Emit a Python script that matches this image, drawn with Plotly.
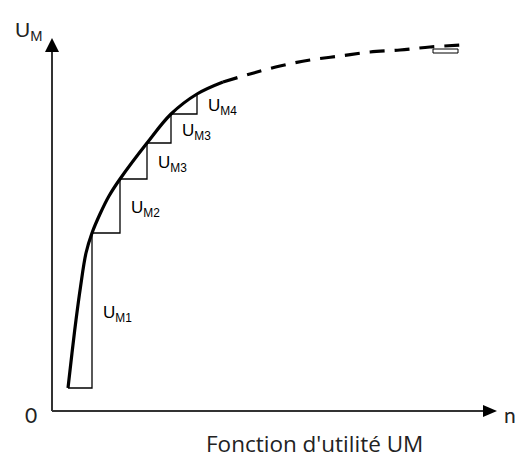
import plotly.graph_objects as go

# Data (arbitrary units: n along horizontal, U_M along vertical)
solid_n = [16, 20, 24, 28.5, 34, 40, 48, 57, 68, 95, 119, 145, 171]
solid_U = [23, 58, 91, 124, 158, 178, 197, 215, 232, 268, 297, 317, 329]

dashed_n = [171, 198, 228, 258, 288, 318, 348, 378, 411]
dashed_U = [329, 337, 345, 351, 355, 359, 361, 364, 366]

step_n = [16, 40, 68, 95, 119, 145]
step_U = [23, 178, 232, 268, 297, 317]

step_labels = ["U<sub>M1</sub>", "U<sub>M2</sub>", "U<sub>M3</sub>", "U<sub>M3</sub>", "U<sub>M4</sub>"]

endbox_n = [381, 406]
endbox_U = [358, 362]

axis_n_max = 445
axis_U_max = 373

fig = go.Figure()

# staircase
fig.add_trace(go.Scatter(x=step_n, y=step_U, mode="lines", line_shape="hv",
                         line=dict(color="black", width=1.3), hoverinfo="skip"))
# solid curve
fig.add_trace(go.Scatter(x=solid_n, y=solid_U, mode="lines", line_shape="spline",
                         line=dict(color="black", width=3.2), hoverinfo="skip"))
# dashed curve
fig.add_trace(go.Scatter(x=dashed_n, y=dashed_U, mode="lines", line_shape="spline",
                         line=dict(color="black", width=3.2, dash="15px,10px"), hoverinfo="skip"))
# small box at end
fig.add_trace(go.Scatter(x=[endbox_n[0], endbox_n[1], endbox_n[1], endbox_n[0], endbox_n[0]],
                         y=[endbox_U[0], endbox_U[0], endbox_U[1], endbox_U[1], endbox_U[0]],
                         mode="lines", line=dict(color="black", width=1), hoverinfo="skip"))

axis_color = "#333333"
shapes = [
    dict(type="line", x0=0, y0=0, x1=0, y1=axis_U_max - 12, line=dict(color=axis_color, width=2)),
    dict(type="line", x0=0, y0=0, x1=axis_n_max - 10, y1=0, line=dict(color=axis_color, width=2)),
    dict(type="path", path=f"M -7 {axis_U_max-14} L 7 {axis_U_max-14} L 0 {axis_U_max} Z",
         fillcolor="black", line=dict(color="black", width=0)),
    dict(type="path", path=f"M {axis_n_max-14} -6 L {axis_n_max-14} 6 L {axis_n_max} 0 Z",
         fillcolor="black", line=dict(color="black", width=0)),
]

annotations = []
lab_font = dict(family="Liberation Sans", size=17, color="black")
for i, t in enumerate(step_labels):
    x = step_n[i + 1]
    ymid = (step_U[i] + step_U[i + 1]) / 2 - 3
    annotations.append(dict(x=x, y=ymid, text=t, showarrow=False, xanchor="left",
                            yanchor="middle", xshift=9, font=lab_font))

annotations += [
    dict(x=0, y=0, text="0", showarrow=False, xanchor="right", yanchor="middle",
         xshift=-13, yshift=-3, font=dict(family="Lato", size=21, color="#222")),
    dict(x=axis_n_max, y=0, text="n", showarrow=False, xanchor="left", yanchor="middle",
         xshift=5, yshift=-3, font=dict(family="Lato", size=21, color="#222")),
    dict(x=0, y=axis_U_max, text="U<sub>M</sub>", showarrow=False, xanchor="right",
         yanchor="bottom", xshift=-8, yshift=-8, font=dict(family="Liberation Sans", size=21, color="#222")),
    dict(x=262, y=-32, text="Fonction d'utilité UM",
         showarrow=False, xanchor="center", yanchor="middle",
         font=dict(family="Open Sans", size=22.5, color="#222")),
]

# Page body has an 8px margin: size the figure to fill the rest of the window
fig.update_layout(
    width=518, height=447, autosize=False,
    margin=dict(l=0, r=0, t=0, b=0, pad=0),
    paper_bgcolor="white", plot_bgcolor="white",
    showlegend=False,
    xaxis=dict(range=[-44, 474], visible=False, fixedrange=True),
    yaxis=dict(range=[-44, 403], visible=False, fixedrange=True),
    shapes=shapes, annotations=annotations,
)

fig.write_html("out.html")
